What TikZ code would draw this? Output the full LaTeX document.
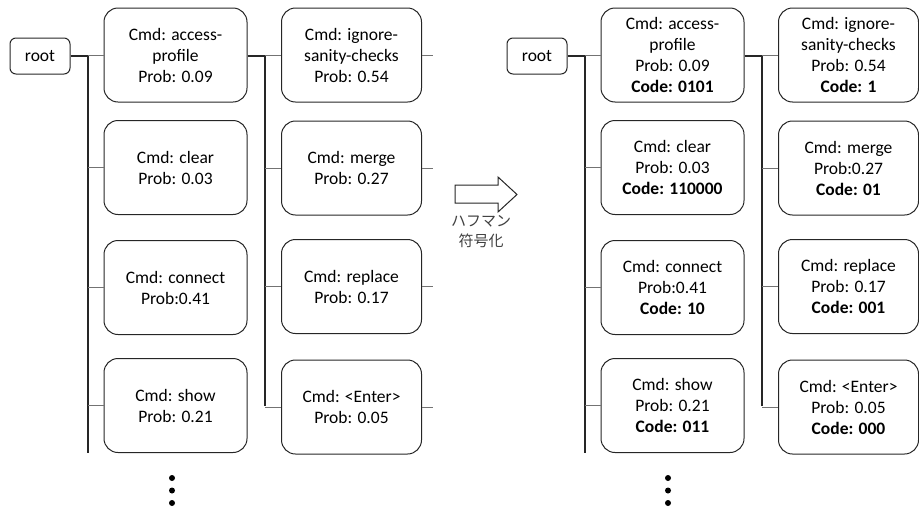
\documentclass[tikz,border=0pt]{standalone}
\usepackage{fontspec}
\setmainfont{Carlito}
\newfontfamily\jpfont{Noto Sans CJK JP}

\tikzset{
  every node/.style={font=\fontsize{17.5}{21}\selectfont},
  cmdbox/.style={draw=black!85, line width=1pt, rounded corners=14pt,
    minimum width=143pt, minimum height=94pt, inner sep=0pt, align=center},
  cmdboxb/.style={cmdbox, minimum width=140pt},
  rootbox/.style={draw=black!85, line width=1pt, rounded corners=6pt,
    minimum width=60pt, minimum height=36pt, inner sep=0pt},
  trunk/.style={draw=black!85, line width=1.1pt},
  branch/.style={draw=black!55, line width=1pt},
}

\begin{document}
\begin{tikzpicture}[x=1pt, y=-1pt]
  \useasboundingbox (0,0) rectangle (919,509);

  % before coding
  \node[rootbox] (Lroot) at (40,56) {root};
  \node[cmdbox] (La1) at (175.5,55)  {Cmd: access-\\profile\\Prob: 0.09};
  \node[cmdbox] (La2) at (175.5,167.5) {Cmd: clear\\Prob: 0.03};
  \node[cmdbox] (La3) at (175.5,287.5) {Cmd: connect\\Prob:0.41};
  \node[cmdbox] (La4) at (175.5,405.5) {Cmd: show\\Prob: 0.21};
  \node[cmdboxb] (Lb1) at (351.5,55)  {Cmd: ignore-\\sanity-checks\\Prob: 0.54};
  \node[cmdboxb] (Lb2) at (351.5,168) {Cmd: merge\\Prob: 0.27};
  \node[cmdboxb] (Lb3) at (351.5,286.5) {Cmd: replace\\Prob: 0.17};
  \node[cmdboxb] (Lb4) at (351.5,407) {Cmd: <Enter>\\Prob: 0.05};

  \coordinate (Lt) at (88,56);
  \coordinate (Ltend) at (88,453);
  \coordinate (Ls) at (265,56);
  \coordinate (Lsend) at (265,406);
  \draw[trunk] (Lroot.east) -- (Lt) -- (Ltend);
  \draw[trunk] (La1.east |- Ls) -- (Ls) -- (Lsend);
  \foreach \i in {1,...,4} {
    \draw[branch] (Lt |- La\i.west) -- (La\i.west);
    \draw[branch] (Ls |- Lb\i.west) -- (Lb\i.west);
    \draw[branch] (Lb\i.east) -- ++(11,0);
  }
  \node[circle, fill, inner sep=0pt, minimum size=6pt] (Ld1) at (172,478) {};
  \node[circle, fill, inner sep=0pt, minimum size=6pt] (Ld2) at (172,490.5) {};
  \node[circle, fill, inner sep=0pt, minimum size=6pt] (Ld3) at (172,503) {};

  % arrow
  \draw[black!85, line width=1pt, fill=white]
    (455,185) -- (498,185) -- (498,177) -- (517,194.5)
    -- (498,212) -- (498,203) -- (455,203) -- cycle;
  \node[text=black!75, align=center, font=\jpfont\fontsize{15}{20}\selectfont]
    (huff) at (481,232) {ハフマン\\符号化};

  % after coding
  \begin{scope}[xshift=497pt]
    \node[rootbox] (Rroot) at (40,56) {root};
    \node[cmdbox] (Ra1) at (175.5,55)  {Cmd: access-\\profile\\Prob: 0.09\\\textbf{Code: 0101}};
    \node[cmdbox] (Ra2) at (175.5,167.5) {Cmd: clear\\Prob: 0.03\\\textbf{Code: 110000}};
    \node[cmdbox] (Ra3) at (175.5,287.5) {Cmd: connect\\Prob:0.41\\\textbf{Code: 10}};
    \node[cmdbox] (Ra4) at (175.5,405.5) {Cmd: show\\Prob: 0.21\\\textbf{Code: 011}};
    \node[cmdboxb] (Rb1) at (351.5,55)  {Cmd: ignore-\\sanity-checks\\Prob: 0.54\\\textbf{Code: 1}};
    \node[cmdboxb] (Rb2) at (351.5,168) {Cmd: merge\\Prob:0.27\\\textbf{Code: 01}};
    \node[cmdboxb] (Rb3) at (351.5,286.5) {Cmd: replace\\Prob: 0.17\\\textbf{Code: 001}};
    \node[cmdboxb] (Rb4) at (351.5,407) {Cmd: <Enter>\\Prob: 0.05\\\textbf{Code: 000}};

    \coordinate (Rt) at (88,56);
    \coordinate (Rtend) at (88,453);
    \coordinate (Rs) at (265,56);
    \coordinate (Rsend) at (265,406);
    \draw[trunk] (Rroot.east) -- (Rt) -- (Rtend);
    \draw[trunk] (Ra1.east |- Rs) -- (Rs) -- (Rsend);
    \foreach \i in {1,...,4} {
      \draw[branch] (Rt |- Ra\i.west) -- (Ra\i.west);
      \draw[branch] (Rs |- Rb\i.west) -- (Rb\i.west);
    }
    \node[circle, fill, inner sep=0pt, minimum size=6pt] (Rd1) at (171,478) {};
    \node[circle, fill, inner sep=0pt, minimum size=6pt] (Rd2) at (171,490.5) {};
    \node[circle, fill, inner sep=0pt, minimum size=6pt] (Rd3) at (171,503) {};
  \end{scope}
\end{tikzpicture}
\end{document}
